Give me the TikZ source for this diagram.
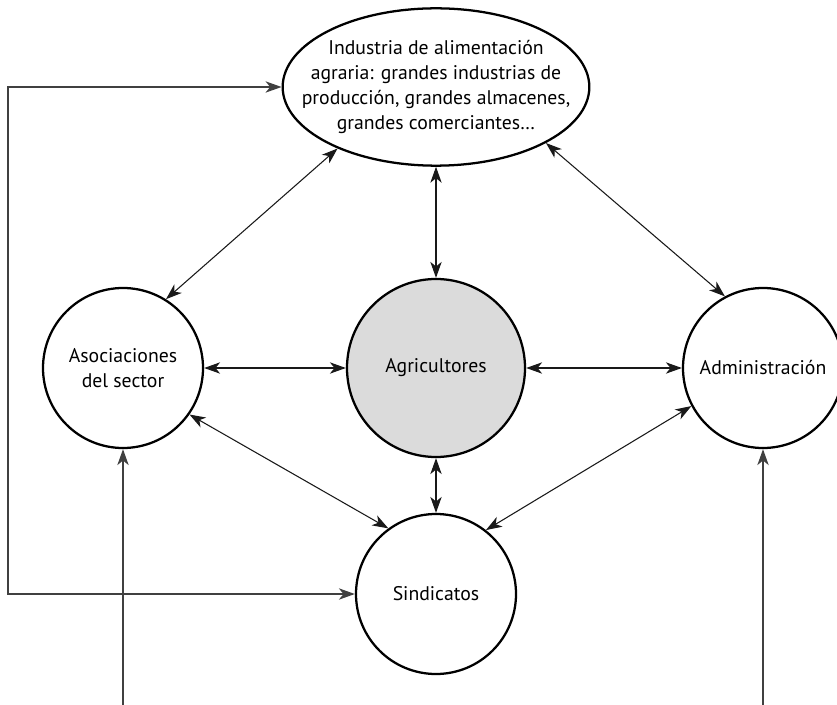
\documentclass[tikz,border=0pt]{standalone}
\usepackage{fontspec}
\setmainfont{PT Sans}
\usetikzlibrary{shapes,positioning,arrows,arrows.meta}

\tikzset{
    >={Stealth[length=12pt,width=8.5pt,inset=3.5pt]},
    actor/.style={circle, draw, line width=1.7pt, minimum size=120pt, inner sep=0pt, align=center},
    link/.style={line width=0.8pt, draw=black!90, <->},
    feed/.style={line width=1.1pt, draw=black!75, ->}
}

\begin{document}
\begin{tikzpicture}[x=0.75pt, y=-0.75pt, font=\fontsize{14.8}{18.75}\selectfont]
    \useasboundingbox (0,0) rectangle (837,705);

    \node[ellipse, draw, line width=1.7pt, minimum width=230pt, minimum height=118pt,
          inner xsep=-60pt, inner ysep=0pt, align=center] (industria) at (436,87)
        {Industria de alimentación\\agraria: grandes industrias de\\producción, grandes almacenes,\\grandes comerciantes…};

    \node[actor, minimum size=133.5pt, fill=black!14] (agricultores) at (436,368) {Agricultores};
    \node[actor] (asociaciones) at (123,368) {Asociaciones\\del sector};
    \node[actor] (administracion) at (763,368) {Administración};
    \node[actor] (sindicatos) at (436,594) {Sindicatos};

    \coordinate (feedBottom) at (8,594);
    \coordinate (inAsociaciones) at (123,705);
    \coordinate (inAdministracion) at (763,705);

    \draw[link] (industria.south) -- (agricultores.north);
    \draw[link] (industria.212) -- (asociaciones.58);
    \draw[link] (industria.333) -- (administracion.118);

    \draw[link] (asociaciones.east) -- (agricultores.west);
    \draw[link] (agricultores.east) -- (administracion.west);
    \draw[link] (agricultores.south) -- (sindicatos.north);

    \draw[link] (asociaciones.325) -- (sindicatos.126);
    \draw[link] (administracion.208) -- (sindicatos.52);

    \draw[feed, <->] (industria.west) -| (feedBottom) -- (sindicatos.west);
    \draw[feed] (inAsociaciones) -- (asociaciones.south);
    \draw[feed] (inAdministracion) -- (administracion.south);
\end{tikzpicture}
\end{document}
